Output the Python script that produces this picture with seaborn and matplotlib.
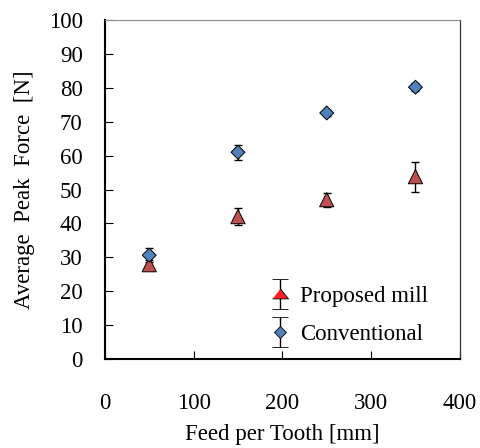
import numpy as np
import pandas as pd
import matplotlib
matplotlib.use("Agg")
import matplotlib.pyplot as plt
from matplotlib.legend_handler import HandlerErrorbar
import seaborn as sns

# values
feed = [50, 150, 250, 350]
proposed_mean = [27.8, 42.0, 47.0, 53.8]
proposed_err = [1.5, 2.5, 2.1, 4.4]
conv_mean = [30.6, 61.0, 72.6, 80.2]
conv_err = [2.0, 2.2, 0.8, 1.2]

sns.set_theme(style="ticks")
plt.rcParams['font.family'] = ['Liberation Serif', 'DejaVu Serif']
plt.rcParams['text.color'] = 'black'
plt.rcParams['axes.labelcolor'] = 'black'

FS = 16.5

df = pd.DataFrame({
    "feed": feed * 2,
    "force": proposed_mean + conv_mean,
    "err": proposed_err + conv_err,
    "series": ["Proposed mill"] * 4 + ["Conventional"] * 4,
})

fig = plt.figure(figsize=(4.81, 4.48), dpi=100)
ax = fig.add_axes([0.218, 0.199, 0.738, 0.756])

# error bars first, markers on top
ax.errorbar(df["feed"], df["force"], yerr=df["err"], fmt="none",
            ecolor="black", elinewidth=1.0, capsize=3, capthick=1.0, zorder=2)

sns.scatterplot(data=df, x="feed", y="force", hue="series", style="series",
                palette={"Proposed mill": "#C0504D", "Conventional": "#4F81BD"},
                markers={"Proposed mill": "^", "Conventional": "D"},
                size="series", sizes={"Proposed mill": 105, "Conventional": 50},
                edgecolor="black", linewidth=0.7, legend=False, ax=ax, zorder=3)

# legend handles: error bar + marker, as in the original
flat_tri = [(-1, -0.55), (1, -0.55), (0, 0.7)]
h1 = ax.errorbar([np.nan], [np.nan], yerr=[1], marker=flat_tri,
                 linestyle="none", color="black",
                 mfc="#FF2020", mec="black", ms=11.5, mew=0.6,
                 elinewidth=1.0, capsize=6, capthick=1.0)
h2 = ax.errorbar([np.nan], [np.nan], yerr=[1], marker="D", linestyle="none",
                 color="black", mfc="#4F81BD", mec="black", ms=6.3, mew=0.6,
                 elinewidth=1.0, capsize=6, capthick=1.0)
ax.legend([h1, h2], ["Proposed mill", "Conventional"], loc="center left",
          bbox_to_anchor=(0.4606, 0.128), frameon=False, fontsize=FS,
          handlelength=1.0, handletextpad=0.37, labelspacing=0.72,
          borderpad=0, borderaxespad=0,
          handler_map={type(h1): HandlerErrorbar(yerr_size=0.65)})

ax.set_xlim(0, 400)
ax.set_ylim(0, 100)
ax.set_xticks([0, 100, 200, 300, 400])
ax.set_yticks(range(0, 101, 10))
ax.tick_params(direction="in", length=6, width=0.8, labelsize=FS,
               colors="black")
ax.tick_params(axis="x", pad=24.5)
ax.tick_params(axis="y", pad=16)
ax.set_xlabel("Feed per Tooth [mm]", fontsize=FS, labelpad=7)
ax.set_ylabel("Average  Peak  Force  [N]", fontsize=FS, labelpad=10)

for side in ["left", "bottom"]:
    ax.spines[side].set_linewidth(1.5)
    ax.spines[side].set_color("black")
ax.spines["top"].set_linewidth(0.8)
ax.spines["top"].set_color("#8a8a8a")
ax.spines["right"].set_linewidth(0.9)
ax.spines["right"].set_color("#333333")

fig.savefig("out.png", dpi=100)
